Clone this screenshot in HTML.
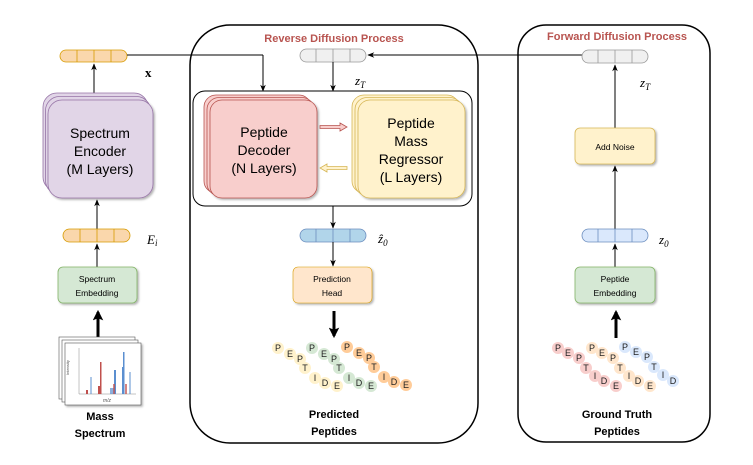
<!DOCTYPE html>
<html><head><meta charset="utf-8"><style>
html,body{margin:0;padding:0;background:#fff}
svg{display:block}
text{font-family:"Liberation Sans",sans-serif}
.m{font-family:"Liberation Serif",serif;font-style:italic}
.up{font-family:"Liberation Serif",serif;font-style:normal;font-weight:bold}
.pl{font-size:9px;fill:#222;text-anchor:middle}
</style></head><body>
<svg width="753" height="465" viewBox="0 0 753 465" xmlns="http://www.w3.org/2000/svg">
<defs>
<marker id="a" viewBox="0 0 10 10" refX="9" refY="5" markerWidth="7" markerHeight="7" orient="auto"><path d="M0,1 L10,5 L0,9 L3,5z" fill="#000"/></marker>
<marker id="b" viewBox="0 0 10 10" refX="8" refY="5" markerWidth="3.5" markerHeight="3.5" orient="auto"><path d="M0,0 L10,5 L0,10 L2,5z" fill="#000"/></marker>
<filter id="sh" x="-10%" y="-10%" width="130%" height="130%"><feDropShadow dx="1.5" dy="1.5" stdDeviation="1" flood-opacity="0.3"/></filter>
</defs>

<rect x="190" y="25" width="288" height="418" rx="40" fill="none" stroke="#000" stroke-width="1.5"/>
<rect x="518" y="25" width="192" height="417" rx="28" fill="none" stroke="#000" stroke-width="1.5"/>
<text x="334" y="42" font-size="11" font-weight="bold" fill="#b85450" text-anchor="middle">Reverse Diffusion Process</text>
<text x="617" y="40" font-size="11" font-weight="bold" fill="#b85450" text-anchor="middle">Forward Diffusion Process</text>

<g stroke="#d79b00" stroke-width="0.8" fill="#fad7ac">
<rect x="60" y="50" width="67" height="12" rx="6"/>
<line x1="77" y1="50" x2="77" y2="62"/><line x1="94" y1="50" x2="94" y2="62"/><line x1="111" y1="50" x2="111" y2="62"/>
</g>
<text x="145" y="77" class="up" font-size="13">x</text>
<line x1="127" y1="55" x2="263" y2="55" stroke="#000" stroke-width="1"/>
<line x1="263" y1="55" x2="263" y2="91" stroke="#000" stroke-width="1" marker-end="url(#a)"/>
<line x1="94" y1="94" x2="94" y2="64" stroke="#000" stroke-width="1" marker-end="url(#a)"/>
<g stroke="#9673a6" stroke-width="0.8" fill="#e1d5e7">
<rect x="43" y="93" width="105" height="98" rx="14"/>
<rect x="45.5" y="96.5" width="105" height="98" rx="14"/>
<rect x="48" y="100" width="105" height="98" rx="14" filter="url(#sh)"/>
</g>
<text x="100" y="138" font-size="14" text-anchor="middle">Spectrum</text>
<text x="100" y="156" font-size="14" text-anchor="middle">Encoder</text>
<text x="100" y="174" font-size="14" text-anchor="middle">(M Layers)</text>
<line x1="97" y1="229" x2="97" y2="200" stroke="#000" stroke-width="1" marker-end="url(#a)"/>
<g stroke="#d79b00" stroke-width="0.8" fill="#fad7ac">
<rect x="63" y="229" width="67" height="13" rx="6.5"/>
<line x1="80" y1="229" x2="80" y2="242"/><line x1="97" y1="229" x2="97" y2="242"/><line x1="114" y1="229" x2="114" y2="242"/>
</g>
<text x="147" y="244" class="m" font-size="13">E<tspan font-size="9" dy="2">i</tspan></text>
<line x1="97" y1="267" x2="97" y2="244" stroke="#000" stroke-width="1" marker-end="url(#a)"/>
<rect x="58" y="267" width="79" height="36" rx="5" fill="#d5e8d4" stroke="#82b366" stroke-width="0.8" filter="url(#sh)"/>
<text x="97" y="282" font-size="8.5" text-anchor="middle">Spectrum</text>
<text x="97" y="296" font-size="8.5" text-anchor="middle">Embedding</text>
<line x1="98" y1="338" x2="98" y2="312" stroke="#000" stroke-width="3" marker-end="url(#b)"/>
<g stroke="#555" stroke-width="0.6" fill="#fff">
<rect x="59" y="337" width="76" height="62"/>
<rect x="62" y="340" width="76" height="62"/>
<rect x="65" y="343" width="76" height="62" filter="url(#sh)"/>
</g>
<line x1="79" y1="348" x2="79" y2="394" stroke="#888" stroke-width="0.5"/>
<line x1="79" y1="394" x2="136" y2="394" stroke="#888" stroke-width="0.5"/>
<g fill="#5b8fd0"><rect x="90" y="377" width="2" height="17" opacity="0.5"/><rect x="114" y="370" width="2" height="24"/><rect x="122" y="367" width="2" height="27"/><rect x="123" y="352" width="1.5" height="42"/><rect x="129" y="372" width="2" height="22" opacity="0.5"/><rect x="110" y="388" width="6" height="6" opacity="0.7"/></g>
<g fill="#c0504d"><rect x="100" y="362" width="1.5" height="32"/><rect x="98" y="386" width="3" height="8"/><rect x="113" y="384" width="2" height="10" opacity="0.7"/><rect x="125" y="384" width="2" height="10" opacity="0.7"/><rect x="86" y="390" width="2" height="4"/></g>
<text x="69" y="375" font-size="4" fill="#555" transform="rotate(-90 69 375)">Intensity</text>
<text x="107" y="402" font-size="5" fill="#555" font-style="italic" text-anchor="middle">m/z</text>
<text x="100" y="420" font-size="11" font-weight="bold" text-anchor="middle">Mass</text>
<text x="100" y="437" font-size="11" font-weight="bold" text-anchor="middle">Spectrum</text>

<g stroke="#999" stroke-width="0.8" fill="#f0f0f0">
<rect x="300" y="49" width="66" height="13" rx="6.5"/>
<line x1="316" y1="49" x2="316" y2="62"/><line x1="333" y1="49" x2="333" y2="62"/><line x1="350" y1="49" x2="350" y2="62"/>
</g>
<line x1="615" y1="55" x2="368" y2="55" stroke="#000" stroke-width="1" marker-end="url(#a)"/>
<line x1="333" y1="62" x2="333" y2="91" stroke="#000" stroke-width="1" marker-end="url(#a)"/>
<text x="355" y="85" class="m" font-size="13">z<tspan font-size="9" dy="3">T</tspan></text>
<rect x="193" y="91" width="279" height="115" rx="12" fill="#fff" stroke="#000" stroke-width="1"/>
<g stroke="#b85450" stroke-width="0.8" fill="#f8cecc">
<rect x="204" y="95" width="107" height="98" rx="12"/>
<rect x="207" y="97.5" width="107" height="98" rx="12"/>
<rect x="210" y="100" width="107" height="98" rx="12" filter="url(#sh)"/>
</g>
<text x="264" y="137" font-size="14" text-anchor="middle">Peptide</text>
<text x="264" y="155" font-size="14" text-anchor="middle">Decoder</text>
<text x="264" y="173" font-size="14" text-anchor="middle">(N Layers)</text>
<g stroke="#d6b656" stroke-width="0.8" fill="#fff2cc">
<rect x="352" y="95" width="107" height="98" rx="12"/>
<rect x="355" y="97.5" width="107" height="98" rx="12"/>
<rect x="358" y="100" width="107" height="98" rx="12" filter="url(#sh)"/>
</g>
<text x="411" y="128" font-size="14" text-anchor="middle">Peptide</text>
<text x="411" y="146" font-size="14" text-anchor="middle">Mass</text>
<text x="411" y="164" font-size="14" text-anchor="middle">Regressor</text>
<text x="411" y="182" font-size="14" text-anchor="middle">(L Layers)</text>
<path d="M320,125.5 H340 V123 L347,127 L340,131 V128.5 H320z" fill="#f8cecc" stroke="#b85450" stroke-width="0.8"/>
<path d="M347,166.5 H327 V164 L320,168 L327,172 V169.5 H347z" fill="#fff2cc" stroke="#d6b656" stroke-width="0.8"/>
<line x1="333" y1="206" x2="333" y2="228" stroke="#000" stroke-width="1" marker-end="url(#a)"/>
<g stroke="#6c8ebf" stroke-width="0.8" fill="#b1d5ea">
<rect x="300" y="229" width="66" height="13" rx="6.5"/>
<line x1="316" y1="229" x2="316" y2="242"/><line x1="333" y1="229" x2="333" y2="242"/><line x1="350" y1="229" x2="350" y2="242"/>
</g>
<text x="378" y="243" class="m" font-size="13">ẑ<tspan font-size="9" dy="3">0</tspan></text>
<line x1="333" y1="242" x2="333" y2="266" stroke="#000" stroke-width="1" marker-end="url(#a)"/>
<rect x="293" y="267" width="79" height="36" rx="5" fill="#ffe6cc" stroke="#d79b00" stroke-width="0.6" filter="url(#sh)"/>
<text x="332" y="282" font-size="8.5" text-anchor="middle">Prediction</text>
<text x="332" y="296" font-size="8.5" text-anchor="middle">Head</text>
<line x1="334" y1="311" x2="334" y2="336" stroke="#000" stroke-width="3" marker-end="url(#b)"/>

<g fill="#fff2cc">
<circle cx="278" cy="348" r="6"/><circle cx="290" cy="354" r="6"/><circle cx="300" cy="359" r="6"/><circle cx="305" cy="368" r="6"/><circle cx="315" cy="378" r="6"/><circle cx="325" cy="383" r="6"/><circle cx="337" cy="386" r="6"/></g>
<g fill="#d5e8d4">
<circle cx="312" cy="348" r="6"/><circle cx="324" cy="354" r="6"/><circle cx="334" cy="359" r="6"/><circle cx="339" cy="368" r="6"/><circle cx="349" cy="378" r="6"/><circle cx="359" cy="383" r="6"/><circle cx="371" cy="386" r="6"/></g>
<g fill="#ffcc99">
<circle cx="347" cy="347" r="6"/><circle cx="359" cy="353" r="6"/><circle cx="369" cy="358" r="6"/><circle cx="374" cy="367" r="6"/><circle cx="384" cy="377" r="6"/><circle cx="394" cy="382" r="6"/><circle cx="406" cy="385" r="6"/></g>
<g>
<text x="278" y="351" class="pl">P</text><text x="290" y="357" class="pl">E</text><text x="300" y="362" class="pl">P</text><text x="305" y="371" class="pl">T</text><text x="315" y="381" class="pl">I</text><text x="325" y="386" class="pl">D</text><text x="337" y="389" class="pl">E</text>
<text x="312" y="351" class="pl">P</text><text x="324" y="357" class="pl">E</text><text x="334" y="362" class="pl">P</text><text x="339" y="371" class="pl">T</text><text x="349" y="381" class="pl">I</text><text x="359" y="386" class="pl">D</text><text x="371" y="389" class="pl">E</text>
<text x="347" y="350" class="pl">P</text><text x="359" y="356" class="pl">E</text><text x="369" y="361" class="pl">P</text><text x="374" y="370" class="pl">T</text><text x="384" y="380" class="pl">I</text><text x="394" y="385" class="pl">D</text><text x="406" y="388" class="pl">E</text>
</g>
<text x="334" y="418" font-size="11" font-weight="bold" text-anchor="middle">Predicted</text>
<text x="334" y="435" font-size="11" font-weight="bold" text-anchor="middle">Peptides</text>

<g stroke="#999" stroke-width="0.8" fill="#f0f0f0">
<rect x="582" y="50" width="66" height="13" rx="6.5"/>
<line x1="598" y1="50" x2="598" y2="63"/><line x1="615" y1="50" x2="615" y2="63"/><line x1="632" y1="50" x2="632" y2="63"/>
</g>
<line x1="615" y1="128" x2="615" y2="65" stroke="#000" stroke-width="1" marker-end="url(#a)"/>
<text x="640" y="87" class="m" font-size="13">z<tspan font-size="9" dy="3">T</tspan></text>
<rect x="575" y="128" width="80" height="36" rx="5" fill="#fff2cc" stroke="#d6b656" stroke-width="0.8" filter="url(#sh)"/>
<text x="615" y="150" font-size="8.5" text-anchor="middle">Add Noise</text>
<line x1="615" y1="229" x2="615" y2="166" stroke="#000" stroke-width="1" marker-end="url(#a)"/>
<g stroke="#6c8ebf" stroke-width="0.8" fill="#dae8fc">
<rect x="582" y="229" width="66" height="13" rx="6.5"/>
<line x1="598" y1="229" x2="598" y2="242"/><line x1="615" y1="229" x2="615" y2="242"/><line x1="632" y1="229" x2="632" y2="242"/>
</g>
<text x="659" y="244" class="m" font-size="13">z<tspan font-size="9" dy="3">0</tspan></text>
<line x1="615" y1="267" x2="615" y2="244" stroke="#000" stroke-width="1" marker-end="url(#a)"/>
<rect x="575" y="267" width="80" height="36" rx="5" fill="#d5e8d4" stroke="#82b366" stroke-width="0.8" filter="url(#sh)"/>
<text x="615" y="282" font-size="8.5" text-anchor="middle">Peptide</text>
<text x="615" y="296" font-size="8.5" text-anchor="middle">Embedding</text>
<line x1="616" y1="338" x2="616" y2="312" stroke="#000" stroke-width="3" marker-end="url(#b)"/>

<g fill="#f8cecc">
<circle cx="558" cy="348" r="6"/><circle cx="568" cy="353" r="6"/><circle cx="579" cy="358" r="6"/><circle cx="586" cy="368" r="6"/><circle cx="595" cy="376" r="6"/><circle cx="604" cy="381" r="6"/><circle cx="616" cy="386" r="6"/></g>
<g fill="#ffe6cc">
<circle cx="592" cy="348" r="6"/><circle cx="602" cy="353" r="6"/><circle cx="613" cy="358" r="6"/><circle cx="620" cy="368" r="6"/><circle cx="629" cy="376" r="6"/><circle cx="638" cy="381" r="6"/><circle cx="650" cy="386" r="6"/></g>
<g fill="#dae8fc">
<circle cx="625" cy="347" r="6"/><circle cx="636" cy="352" r="6"/><circle cx="647" cy="357" r="6"/><circle cx="654" cy="367" r="6"/><circle cx="663" cy="375" r="6"/><circle cx="673" cy="381" r="6"/></g>
<g>
<text x="558" y="351" class="pl">P</text><text x="568" y="356" class="pl">E</text><text x="579" y="361" class="pl">P</text><text x="586" y="371" class="pl">T</text><text x="595" y="379" class="pl">I</text><text x="604" y="384" class="pl">D</text><text x="616" y="389" class="pl">E</text>
<text x="592" y="351" class="pl">P</text><text x="602" y="356" class="pl">E</text><text x="613" y="361" class="pl">P</text><text x="620" y="371" class="pl">T</text><text x="629" y="379" class="pl">I</text><text x="638" y="384" class="pl">D</text><text x="650" y="389" class="pl">E</text>
<text x="625" y="350" class="pl">P</text><text x="636" y="355" class="pl">E</text><text x="647" y="360" class="pl">P</text><text x="654" y="370" class="pl">T</text><text x="663" y="378" class="pl">I</text><text x="673" y="384" class="pl">D</text>
</g>
<text x="617" y="418" font-size="11" font-weight="bold" text-anchor="middle">Ground Truth</text>
<text x="617" y="435" font-size="11" font-weight="bold" text-anchor="middle">Peptides</text>
</svg>
</body></html>
